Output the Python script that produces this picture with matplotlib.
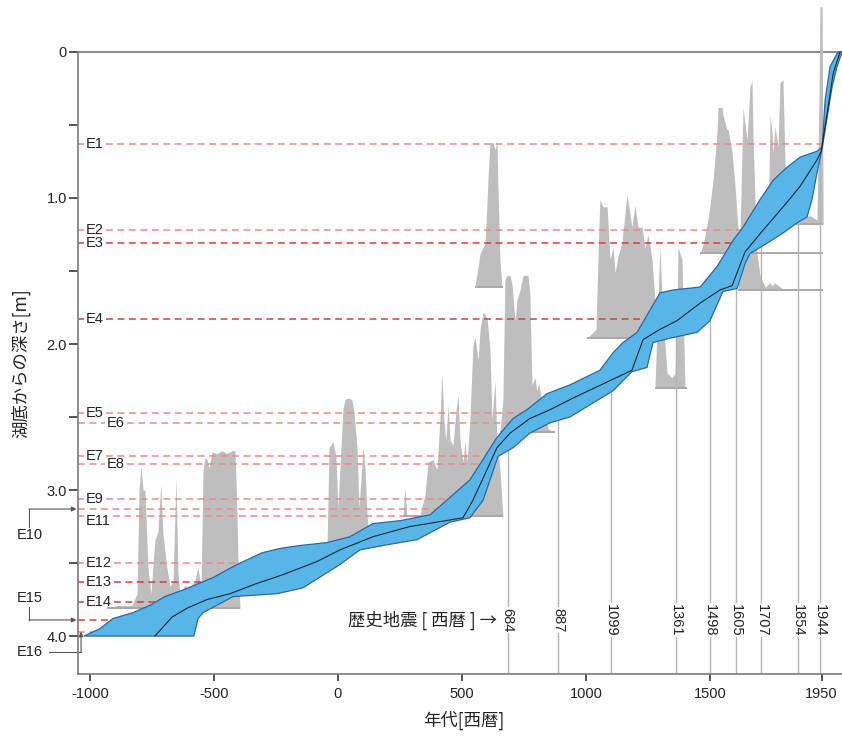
import numpy as np
import matplotlib
matplotlib.use("Agg")
import matplotlib.pyplot as plt
import matplotlib.transforms as mtransforms
from matplotlib import font_manager

# age-depth model: calendar year (AD) vs depth below lake floor (m)
old_year = [-1024, -960, -907, -827, -758, -698, -617, -504, -407, -306,
            -234, -153, -44, 48, 141, 250, 371, 452, 532, 585,
            641, 706, 762, 843, 935, 1056, 1109, 1149, 1206, 1298,
            1351, 1460, 1528, 1593, 1633, 1702, 1754, 1810, 1863, 1931,
            1952, 1964, 1984, 2012, 2024]
old_depth = [4.00, 3.95, 3.88, 3.84, 3.79, 3.73, 3.68, 3.60, 3.51, 3.43,
             3.40, 3.38, 3.36, 3.32, 3.23, 3.21, 3.17, 3.05, 2.93, 2.79,
             2.64, 2.51, 2.45, 2.34, 2.28, 2.18, 2.06, 1.99, 1.92, 1.65,
             1.63, 1.61, 1.47, 1.29, 1.20, 1.01, 0.88, 0.79, 0.72, 0.68,
             0.65, 0.33, 0.10, 0.01, 0.00]
young_year = [-581, -564, -544, -423, -246, -141, 8, 89, 181, 319,
              452, 532, 585, 645, 706, 774, 855, 935, 1109, 1185,
              1246, 1270, 1339, 1448, 1500, 1552, 1609, 1641, 1661, 1730,
              1794, 1851, 1891, 1911, 1931, 1951, 1972, 1992, 2012, 2032]
young_depth = [4.00, 3.88, 3.84, 3.73, 3.71, 3.67, 3.51, 3.41, 3.38, 3.34,
               3.22, 3.19, 3.07, 2.77, 2.71, 2.61, 2.54, 2.50, 2.32, 2.19,
               2.16, 1.99, 1.96, 1.92, 1.84, 1.64, 1.62, 1.45, 1.38, 1.31,
               1.24, 1.17, 1.13, 1.01, 0.83, 0.67, 0.45, 0.24, 0.10, 0.00]
median_year = [-738, -706, -669, -609, -528, -435, -327, -222, -85, 8,
               141, 290, 399, 504, 544, 601, 641, 694, 774, 855,
               948, 1185, 1230, 1298, 1367, 1460, 1540, 1589, 1641, 1714,
               1810, 1863, 1931, 1948, 1972, 1996, 2024]
median_depth = [4.00, 3.94, 3.87, 3.81, 3.75, 3.71, 3.64, 3.58, 3.49, 3.41,
                3.32, 3.25, 3.22, 3.19, 3.07, 2.86, 2.71, 2.61, 2.51, 2.45,
                2.37, 2.18, 1.97, 1.90, 1.84, 1.72, 1.63, 1.60, 1.37, 1.22,
                1.03, 0.92, 0.74, 0.68, 0.42, 0.15, 0.00]

# event horizons
event_names = ["E1", "E2", "E3", "E4", "E5", "E6", "E7", "E8",
               "E9", "E10", "E11", "E12", "E13", "E14", "E15", "E16"]
event_depth = [0.63, 1.22, 1.31, 1.83, 2.47, 2.54, 2.77, 2.82,
               3.06, 3.13, 3.18, 3.50, 3.63, 3.77, 3.89, 3.97]

# historical earthquakes (AD)
quake_years = [684, 887, 1099, 1361, 1498, 1605, 1707, 1854, 1944]

# calibrated 14C age distributions: sample depth, years, top of curve (m)
dist_a_base = 3.81
dist_a_year = [-931, -891, -831, -810, -802, -794, -786, -778, -766, -754,
               -738, -726, -714, -706, -690, -677, -665, -653, -645, -637,
               -617, -605, -577, -564, -552, -544, -536, -528, -520, -508,
               -488, -468, -448, -427, -415, -407, -403, -395]
dist_a_top = [3.81, 3.79, 3.79, 3.71, 3.00, 2.84, 3.00, 3.00, 3.53, 3.71,
              3.34, 3.29, 2.96, 3.29, 3.53, 3.66, 3.62, 2.92, 3.57, 3.71,
              3.65, 3.68, 3.62, 3.53, 3.68, 2.86, 2.78, 2.79, 2.85, 2.74,
              2.75, 2.73, 2.75, 2.73, 2.73, 3.16, 3.48, 3.81]

dist_b_base = 3.38
dist_b_year = [-44, -36, -24, -20, -8, 0, 20, 28, 40, 56, 65, 77, 85, 97,
               101, 109, 117, 129]
dist_b_top = [3.38, 2.71, 2.68, 2.67, 2.77, 3.12, 2.45, 2.38, 2.37, 2.38,
              2.47, 2.71, 3.12, 2.82, 2.71, 2.84, 3.16, 3.38]

dist_c_base = 3.18
dist_c_year = [262, 270, 278, 331, 351, 363, 383, 399, 411, 419,
               427, 435, 444, 452, 464, 476, 484, 492, 504, 512,
               520, 532, 544, 552, 565, 573, 585, 601, 613, 621,
               633, 641, 653, 665]
dist_c_top = [3.18, 2.98, 3.18, 3.17, 3.03, 2.81, 2.79, 2.86, 2.52, 2.20,
              2.52, 2.66, 2.42, 2.66, 2.69, 2.45, 2.35, 2.66, 2.81, 2.66,
              2.81, 2.52, 2.01, 1.95, 2.11, 1.90, 1.78, 1.82, 2.04, 2.52,
              2.25, 2.66, 2.86, 3.18]

dist_d_base = 2.60
dist_d_year = [653, 665, 673, 681, 694, 702, 714, 722, 734, 746,
               766, 774, 782, 794, 802, 810, 827, 847, 863, 875]
dist_d_top = [2.60, 2.38, 1.56, 1.53, 1.53, 1.60, 1.84, 1.70, 1.63, 1.53,
              1.53, 1.66, 2.28, 2.23, 2.32, 2.27, 2.45, 2.58, 2.60, 2.60]

dist_e_base = 1.61
dist_e_year = [552, 573, 593, 601, 605, 613, 625, 633, 641, 645, 653, 661, 665]
dist_e_top = [1.61, 1.38, 1.31, 1.03, 0.86, 0.62, 0.62, 0.67, 0.62, 0.92,
              1.42, 1.61, 1.61]

dist_f_base = 1.96
dist_f_year = [1004, 1040, 1052, 1056, 1068, 1085, 1097, 1109, 1117, 1129,
               1145, 1165, 1173, 1185, 1197, 1210, 1226, 1238, 1250, 1266,
               1278, 1286]
dist_f_top = [1.96, 1.90, 1.20, 1.01, 1.06, 1.06, 1.42, 1.34, 1.51, 1.40,
              1.30, 0.98, 1.06, 1.20, 1.05, 1.20, 1.20, 1.34, 1.25, 1.42,
              1.70, 1.96]

dist_g_base = 2.30
dist_g_year = [1278, 1290, 1298, 1310, 1327, 1347, 1359, 1367, 1371, 1387,
               1399, 1407]
dist_g_top = [2.30, 1.70, 1.34, 1.82, 2.20, 2.23, 2.20, 1.70, 1.34, 1.42,
              2.29, 2.30]

dist_h_base = 1.38
dist_h_year = [1460, 1472, 1488, 1500, 1512, 1528, 1532, 1548, 1552, 1568,
               1573, 1589, 1601, 1613, 1621, 1956]
dist_h_top = [1.38, 1.32, 1.18, 1.05, 0.88, 0.55, 0.38, 0.38, 0.43, 0.53,
              0.53, 0.69, 0.92, 1.22, 1.38, 1.38]

dist_i_base = 1.63
dist_i_year = [1613, 1621, 1633, 1649, 1661, 1669, 1673, 1681, 1689, 1702,
               1722, 1742, 1750, 1762, 1774, 1790, 1822, 1956]
dist_i_top = [1.63, 1.22, 0.38, 0.60, 0.24, 0.19, 0.55, 1.01, 1.38, 1.53,
              1.61, 1.58, 1.60, 1.58, 1.60, 1.62, 1.63, 1.63]

dist_j_base = 1.18
dist_j_year = [1734, 1742, 1750, 1754, 1762, 1774, 1782, 1794, 1802, 1810,
               1822, 1863, 1903, 1931, 1939, 1943, 1952, 1956]
dist_j_top = [1.18, 0.43, 0.55, 0.69, 0.51, 0.65, 0.21, 0.19, 0.74, 1.06,
              1.10, 1.14, 1.12, 1.15, 0.33, -0.31, -0.31, 1.18]

x_ticks = [-1000, -500, 0, 500, 1000, 1500, 1950]
x_ticklabels = ["-1000", "-500", "0", "500", "1000", "1500", "1950"]
y_ticks = [0, 1, 2, 3, 4]
y_ticklabels = ["0", "1.0", "2.0", "3.0", "4.0"]


# fonts: narrow latin face when present, CJK for the Japanese text
names = {f.name for f in font_manager.fontManager.ttflist}
narrow = "Liberation Sans Narrow" in names
latin = "Liberation Sans Narrow" if narrow else "Liberation Sans"
plt.rcParams["font.family"] = [latin, "Noto Sans CJK JP", "DejaVu Sans"]
plt.rcParams["axes.unicode_minus"] = False
num_size = 12 if narrow else 10.5
jp = ["Noto Sans CJK JP", "DejaVu Sans"]

fig = plt.figure(figsize=(8.42, 7.40), dpi=100)
ax = fig.add_axes([78 / 842, 66 / 740, 764 / 842, 674 / 740])
x_lo, x_hi = -1048, 2032
y_bottom = 4.26
ax.set_xlim(x_lo, x_hi)
ax.set_ylim(y_bottom, -0.356)

for s in ["top", "right"]:
    ax.spines[s].set_visible(False)
for s in ["left", "bottom"]:
    ax.spines[s].set_color("#7a7a7a")
    ax.spines[s].set_linewidth(1.2)
ax.spines["left"].set_bounds(0, y_bottom)
ax.axhline(0, color="#6a6a6a", lw=1.1, zorder=1)

ax.set_xticks(x_ticks)
ax.set_xticklabels(x_ticklabels)
ax.set_yticks(y_ticks)
ax.set_yticklabels(y_ticklabels)
ax.set_yticks([0.5, 1.5, 2.5, 3.5], minor=True)
ax.tick_params(axis="x", direction="out", length=5, width=1.3, color="#444",
               labelsize=num_size, labelcolor="#222", pad=4)
ax.tick_params(axis="y", which="both", direction="out", length=6.5, width=1.3,
               color="#444", labelsize=num_size, labelcolor="#222", pad=1.5)

# radiocarbon probability curves
dists = [
    (dist_a_base, dist_a_year, dist_a_top),
    (dist_b_base, dist_b_year, dist_b_top),
    (dist_c_base, dist_c_year, dist_c_top),
    (dist_d_base, dist_d_year, dist_d_top),
    (dist_e_base, dist_e_year, dist_e_top),
    (dist_f_base, dist_f_year, dist_f_top),
    (dist_g_base, dist_g_year, dist_g_top),
    (dist_h_base, dist_h_year, dist_h_top),
    (dist_i_base, dist_i_year, dist_i_top),
    (dist_j_base, dist_j_year, dist_j_top),
]
for base, yrs, top in dists:
    ax.fill_between(yrs, top, base, color="#bebebe", lw=0, zorder=1.2,
                    clip_on=False)
    ax.plot([yrs[0], yrs[-1]], [base, base], color="#a9a9a9", lw=1.4,
            zorder=1.3, solid_capstyle="butt")

# historical earthquakes: line from axis up to the young edge of the model
for yr in quake_years:
    top = np.interp(yr, young_year, young_depth)
    ax.plot([yr, yr], [y_bottom, top], color="#b4b4b4", lw=1.0, zorder=1.5)
    ax.text(yr, 3.89, str(yr), rotation=-90, ha="center", va="center",
            fontsize=num_size, color="#222", zorder=5,
            bbox=dict(fc="white", ec="none", pad=0.6))
ax.annotate("歴史地震 [ 西暦 ] →", xy=(quake_years[0], 3.89),
            xytext=(-8, 0), textcoords="offset points", ha="right",
            va="center", fontsize=12.5, family=jp, color="#222", zorder=5)

# event labels; the dashed lines are broken around them
blend = mtransforms.blended_transform_factory(ax.transAxes, ax.transData)
inside = ["E1", "E2", "E3", "E4", "E5", "E7", "E9", "E11", "E12", "E13", "E14"]
shifted = ["E6", "E8"]
labels = {}
for name, d in zip(event_names, event_depth):
    if name in inside:
        x0 = 0.0105
    elif name in shifted:
        x0 = 0.038
    else:
        continue
    dy = 0.03 if name == "E11" else 0
    labels[name] = ax.text(x0, d + dy, name, transform=blend, ha="left",
                           va="center", fontsize=num_size, color="#222",
                           zorder=5)

fig.canvas.draw()
renderer = fig.canvas.get_renderer()
inv = ax.transData.inverted()

strong = ["E3", "E4", "E13", "E14", "E15"]
old_d = np.array(old_depth)[::-1]
old_y = np.array(old_year)[::-1]
for name, d in zip(event_names, event_depth):
    x_end = np.interp(d, old_d, old_y) + 15
    if name in labels:
        bb = labels[name].get_window_extent(renderer)
        xa = inv.transform((bb.x0 - 2, 0))[0]
        xb = inv.transform((bb.x1 + 2, 0))[0]
        spans = [(x_lo, xa), (xb, x_end)]
    else:
        spans = [(x_lo, x_end)]
    col = "#df3b36" if name in strong else "#ee8a85"
    for a, b in spans:
        ax.plot([a, b], [d, d], color=col, lw=1.1,
                linestyle=(0, (4.5, 3)), zorder=2)

# events labelled outside the axis with elbow arrows
arrow = dict(arrowstyle="-|>", color="#555", lw=0.8, mutation_scale=7,
             shrinkA=0, shrinkB=0)
d10 = event_depth[event_names.index("E10")]
d15 = event_depth[event_names.index("E15")]
d16 = event_depth[event_names.index("E16")]
ax.text(-0.063, d10 + 0.18, "E10", transform=blend, ha="center", va="center",
        fontsize=num_size, color="#222")
ax.plot([-0.064, -0.064], [d10 + 0.12, d10], transform=blend, color="#555",
        lw=0.8, clip_on=False)
ax.annotate("", xy=(-0.002, d10), xytext=(-0.064, d10), xycoords=blend,
            textcoords=blend, arrowprops=arrow, annotation_clip=False)
ax.text(-0.063, d15 - 0.15, "E15", transform=blend, ha="center", va="center",
        fontsize=num_size, color="#222")
ax.plot([-0.064, -0.064], [d15 - 0.09, d15], transform=blend, color="#555",
        lw=0.8, clip_on=False)
ax.annotate("", xy=(-0.002, d15), xytext=(-0.064, d15), xycoords=blend,
            textcoords=blend, arrowprops=arrow, annotation_clip=False)
ax.text(-0.063, d16 + 0.14, "E16", transform=blend, ha="center", va="center",
        fontsize=num_size, color="#222")
ax.plot([-0.038, 0.004], [d16 + 0.14, d16 + 0.14], transform=blend,
        color="#555", lw=0.8, clip_on=False)
ax.annotate("", xy=(0.004, d16), xytext=(0.004, d16 + 0.14), xycoords=blend,
            textcoords=blend, arrowprops=arrow, annotation_clip=False)

# age-depth envelope and median
band_x = np.concatenate([old_year, young_year[::-1]])
band_y = np.concatenate([old_depth, young_depth[::-1]])
ax.fill(band_x, band_y, facecolor="#57b5e8", edgecolor="#2f66a0", lw=0.9,
        zorder=3)
ax.plot(median_year, median_depth, color="#1b2633", lw=0.8, zorder=4)

fig.text(21 / 842, 1 - 363 / 740, "湖底からの深さ[m]", rotation=90,
         ha="center", va="center", fontsize=12.5, family=jp, color="#222")
fig.text(464 / 842, 1 - 720 / 740, "年代[西暦]", ha="center", va="center",
         fontsize=12.5, family=jp, color="#222")

fig.savefig("out.png", dpi=100)
